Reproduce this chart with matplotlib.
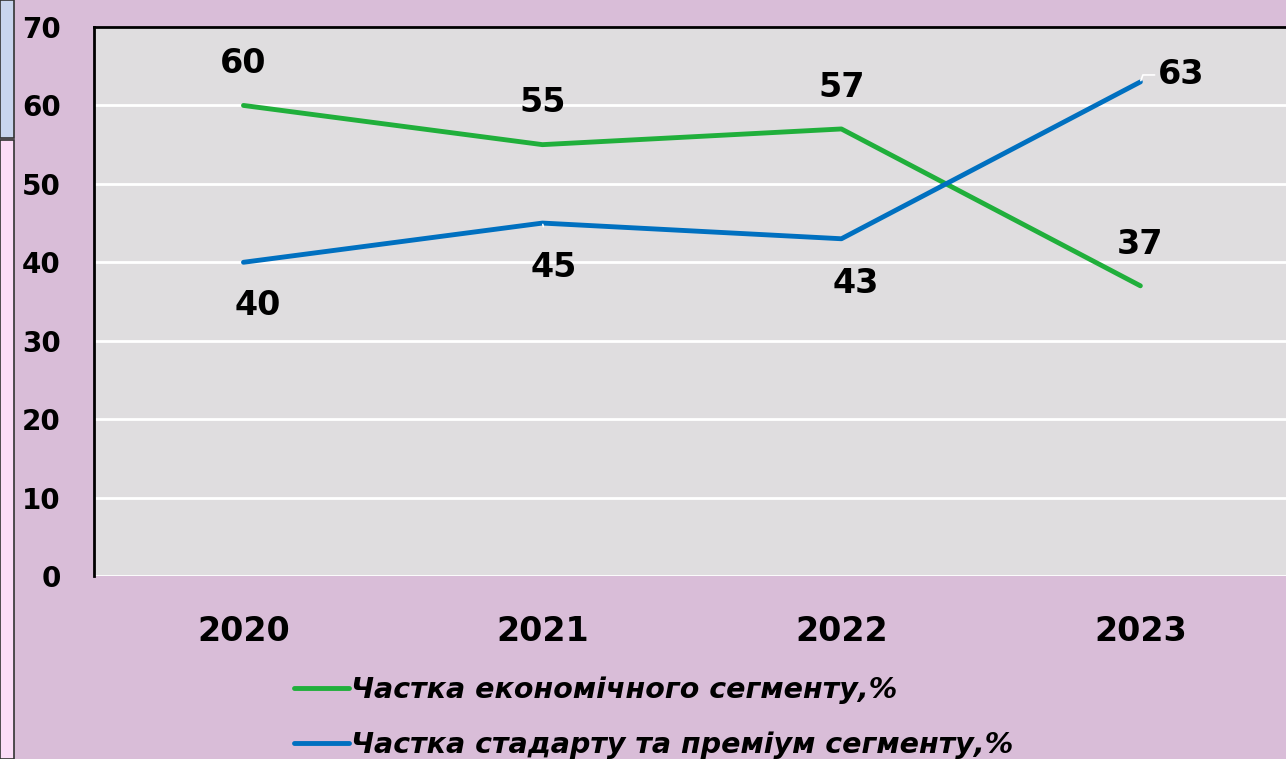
import matplotlib.pyplot as plt
import matplotlib.patches as mpatches
import numpy as np

years = ['2020', '2021', '2022', '2023']
econ = [60, 55, 57, 37]
prem = [40, 45, 43, 63]
econ_label = 'Частка економічного сегменту,%'
prem_label = 'Частка стадарту та преміум сегменту,%'

bg = '#D9BDD8'
plot_bg = '#DFDDDF'
green = '#20AF3B'
blue = '#0070C0'

plt.rcParams['font.family'] = ['DejaVu Sans']

fig = plt.figure(figsize=(12.86, 7.59), dpi=100, facecolor=bg)

# odd boxes on the left edge of the slide
fig.patches.append(mpatches.Rectangle((0, 1 - 138 / 759), 14 / 1286, 138 / 759,
                                      transform=fig.transFigure, facecolor='#C9D5EE',
                                      edgecolor='#333333', lw=1.2, zorder=0))
fig.patches.append(mpatches.Rectangle((0, 0), 14 / 1286, 1 - 140 / 759,
                                      transform=fig.transFigure, facecolor='#FCDDF8',
                                      edgecolor='#333333', lw=1.2, zorder=0))

ax = fig.add_axes([94 / 1286, 1 - 576 / 759, 1 - 94 / 1286 + 0.003, 549 / 759])
ax.set_facecolor(plot_bg)

x = np.arange(len(years))
l1, = ax.plot(x, econ, color=green, lw=3.5, solid_capstyle='round', zorder=3)
l2, = ax.plot(x, prem, color=blue, lw=3.5, solid_capstyle='round', zorder=3)

ax.set_xlim(-0.5, 3.5)
ax.set_ylim(0, 70)
ax.set_yticks(range(0, 71, 10))
ax.set_xticks(x)
ax.set_xticklabels(years)
ax.yaxis.grid(True, color='white', lw=2)
ax.set_axisbelow(True)

for s in ['right', 'bottom']:
    ax.spines[s].set_visible(False)
ax.spines['left'].set_color('black')
ax.spines['left'].set_linewidth(2)
ax.spines['top'].set_color('black')
ax.spines['top'].set_linewidth(2)

ax.tick_params(axis='y', length=0, pad=24, labelsize=20)
ax.tick_params(axis='x', length=0, pad=28, labelsize=24)
for t in ax.get_xticklabels() + ax.get_yticklabels():
    t.set_fontweight('bold')

lab = dict(fontsize=24, fontweight='bold', ha='center', va='center', zorder=5)

# green labels above the points
for i, v in enumerate(econ):
    ax.annotate(str(v), (x[i], v), xytext=(0, 30), textcoords='offset points', **lab)

# blue labels
ax.annotate(str(prem[0]), (x[0], prem[0]), xytext=(10, -31), textcoords='offset points', **lab)
ax.annotate(str(prem[1]), (x[1], prem[1]), xytext=(8, -32), textcoords='offset points',
            arrowprops=dict(arrowstyle='-', color='white', lw=1.2, shrinkA=16, shrinkB=1), **lab)
ax.annotate(str(prem[2]), (x[2], prem[2]), xytext=(10, -32), textcoords='offset points', **lab)
ax.annotate(str(prem[3]), (x[3], prem[3]), xytext=(29, 5), textcoords='offset points',
            arrowprops=dict(arrowstyle='-', color='white', lw=1.2, shrinkA=13, shrinkB=1,
                            connectionstyle='angle,angleA=0,angleB=70,rad=0'), **lab)

leg = fig.legend([l1, l2], [econ_label, prem_label], loc='upper left',
                 bbox_to_anchor=(268 / 1286, 1 - 650 / 759), frameon=False,
                 handlelength=1.95, handletextpad=0.05, labelspacing=0.95,
                 prop=dict(size=20.5, weight='bold', style='italic'))

fig.savefig('out.png', dpi=100, facecolor=bg)
